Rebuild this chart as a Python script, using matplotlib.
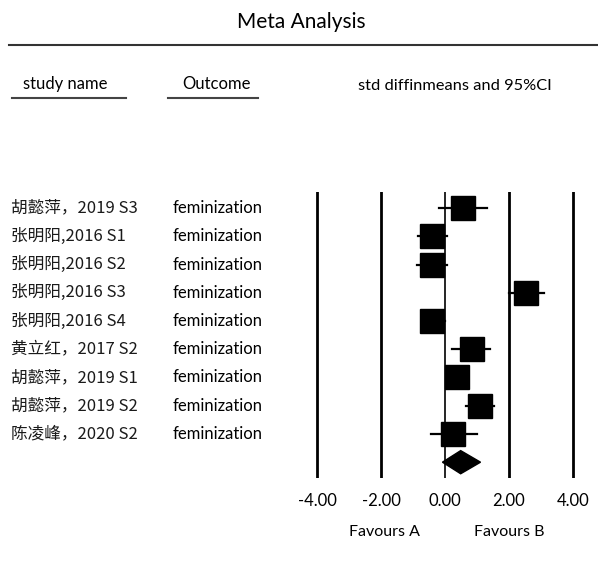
import matplotlib.pyplot as plt
import matplotlib.transforms as mtransforms
from matplotlib.lines import Line2D

studies = ['胡懿萍，2019 S3', '张明阳,2016 S1', '张明阳,2016 S2', '张明阳,2016 S3',
           '张明阳,2016 S4', '黄立红，2017 S2', '胡懿萍，2019 S1', '胡懿萍，2019 S2',
           '陈凌峰，2020 S2']
outcome = ['feminization'] * len(studies)
est = [0.56, -0.40, -0.40, 2.53, -0.40, 0.85, 0.38, 1.09, 0.25]
ci_low = [-0.19, -0.85, -0.86, 2.00, -0.55, 0.23, 0.30, 0.65, -0.44]
ci_high = [1.30, 0.05, 0.05, 3.10, 0.00, 1.41, 0.50, 1.54, 0.99]
summary_est, summary_low, summary_high = 0.49, -0.08, 1.11
ticks = [-4, -2, 0, 2, 4]

W, H = 598, 562
fig = plt.figure(figsize=(W / 100, H / 100), dpi=100)
plt.rcParams['font.family'] = ['Lato', 'Noto Sans CJK SC', 'DejaVu Sans']


def fx(x):
    return x / W


def fy(y):
    return 1 - y / H


# forest axes: x 301..589 px, y 192..478 px
ax = fig.add_axes([fx(301), fy(478), (589 - 301) / W, (478 - 192) / H])
ax.set_xlim(-4.5, 4.5)
ax.set_ylim(9.56, -0.57)
for s in ax.spines.values():
    s.set_visible(False)
ax.set_yticks([])
ax.set_xticks(ticks)
ax.set_xticklabels([f'{t:.2f}' for t in ticks], fontsize=12)
ax.tick_params(axis='x', length=0, pad=11)

for t in ticks:
    ax.axvline(t, color='black', lw=1.2 if t == 0 else 2.0, zorder=1)

for i in range(len(studies)):
    ax.plot([ci_low[i], ci_high[i]], [i, i], color='black', lw=1.6, zorder=2)
    ax.plot(est[i], i, marker='s', ms=17.6, color='black', zorder=3)

d = len(studies)
ax.fill([summary_low, summary_est, summary_high, summary_est],
        [d, d - 0.41, d, d + 0.41], color='black', zorder=3)

# favours labels under the axis
trb = mtransforms.blended_transform_factory(ax.transData, fig.transFigure)
fig.text(-1.9, fy(532), 'Favours A', transform=trb, ha='center', va='center', fontsize=11.5)
fig.text(2.0, fy(532), 'Favours B', transform=trb, ha='center', va='center', fontsize=11.5)

# row labels
tr = mtransforms.blended_transform_factory(fig.transFigure, ax.transData)
for i in range(len(studies)):
    fig.text(fx(11), i, studies[i], transform=tr, va='center', ha='left',
             fontsize=12, family=['Noto Sans CJK SC', 'DejaVu Sans'], color='#1a1a1a')
    fig.text(fx(173), i, outcome[i], transform=tr, va='center', ha='left', fontsize=12)

# header
fig.text(fx(301), fy(22), 'Meta Analysis', ha='center', va='center', fontsize=15)
fig.add_artist(Line2D([fx(9), fx(598)], [fy(45), fy(45)], color='#333333', lw=1.5))
fig.text(fx(23), fy(84), 'study name', ha='left', va='center', fontsize=12)
fig.add_artist(Line2D([fx(12), fx(126)], [fy(98), fy(98)], color='#444444', lw=1.5))
fig.text(fx(182), fy(84), 'Outcome', ha='left', va='center', fontsize=12)
fig.add_artist(Line2D([fx(168), fx(258)], [fy(98), fy(98)], color='#444444', lw=1.5))
fig.text(fx(358), fy(86), 'std diffinmeans and 95%CI', ha='left', va='center', fontsize=11.8)

fig.savefig('out.png', dpi=100)
